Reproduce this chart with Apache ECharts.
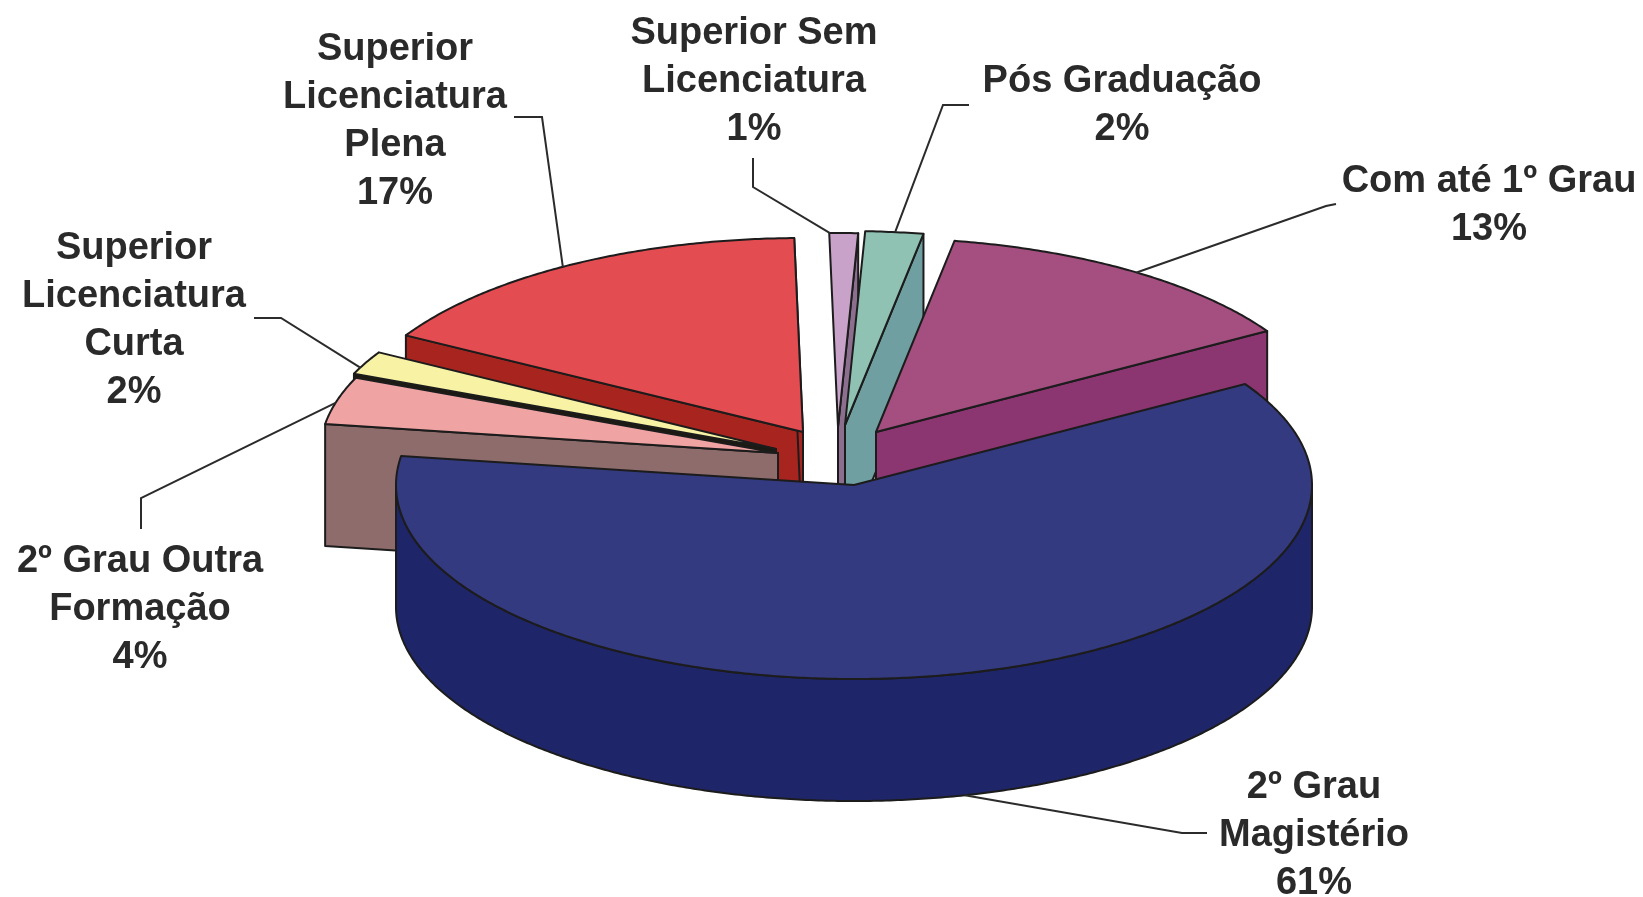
<!DOCTYPE html>
<html>
<head>
    <meta charset="utf-8" />
    <title></title>
    <style>
        html, body { margin: 0; height: 100%; background: #fff; }
        #container { width: 1643px; height: 897px; }
    </style>
    <script src="https://cdn.jsdelivr.net/npm/echarts@6/dist/echarts.min.js"></script>
</head>
<body>
    <div id="container"></div>
    <script>
        // clockwise from the right-hand edge of the big slice
        var categories = [
            '2º Grau\nMagistério',
            '2º Grau Outra\nFormação',
            'Superior\nLicenciatura\nCurta',
            'Superior\nLicenciatura\nPlena',
            'Superior Sem\nLicenciatura',
            'Pós Graduação',
            'Com até 1º Grau'
        ];
        var percents = [61, 4, 2, 17, 1, 2, 13];

        // back slices first, the big slice last
        var drawOrder = [4, 5, 3, 6, 2, 1, 0];

        // pie look: fake 3D ellipse
        var radiusX = 458, radiusY = 194, depth = 122, startAngle = 31;
        var tips = [[854, 485], [778, 453], [776, 449], [803, 432], [838, 427], [845, 425], [876, 432]];
        var topColors = ['#343a80', '#f0a3a3', '#f8f2a4', '#e34c50', '#c9a2c9', '#8fc2b2', '#a44f80'];
        var sideColors = ['#1f2569', '#8f6c6c', '#1d1a10', '#a8241f', '#8c6f8e', '#6f9fa0', '#8b3571'];

        // label block centre, elbow points of the leader, rim angle the leader ends on
        var labelPos = [[1314, 836], [140, 610], [134, 321], [395, 122], [754, 82], [1122, 106], [1489, 206]];
        var elbows = [
            [[1207, 833], [1182, 833]],
            [[141, 529], [141, 498]],
            [[254, 318], [281, 318]],
            [[514, 117], [542, 117]],
            [[753, 158], [753, 187]],
            [[969, 105], [943, 105]],
            [[1336, 204], [1326, 206]]
        ];
        var leaderAngles = [-76, 165, 155, 120, 88.5, 81.3, 54];
        var lineColor = '#1c1c1c';

        // slices to the back look turned a little, same as the old perspective
        function warp(deg) {
            var s = Math.sin(deg * Math.PI / 180);
            return s > 0 ? deg + 2.5 * s * s * s : deg;
        }
        function rimPoint(tip, deg, down) {
            var r = warp(deg) * Math.PI / 180;
            return [tip[0] + radiusX * Math.cos(r), tip[1] - radiusY * Math.sin(r) + (down || 0)];
        }
        function arc(tip, from, to, down) {
            var pts = [], n = Math.max(2, Math.ceil(Math.abs(to - from) * 2));
            for (var i = 0; i <= n; i++) {
                pts.push(rimPoint(tip, from + (to - from) * i / n, down));
            }
            return pts;
        }
        function poly(points, fill) {
            return {
                type: 'polygon',
                shape: { points: points },
                style: { fill: fill, stroke: lineColor, lineWidth: 2, lineJoin: 'round' }
            };
        }
        function cutFace(tip, deg, fill) {
            var rim = rimPoint(tip, deg);
            return poly([tip, rim, [rim[0], rim[1] + depth], [tip[0], tip[1] + depth]], fill);
        }

        // slice angles from the values, going clockwise
        var total = percents.reduce(function (a, b) { return a + b; }, 0);
        var hiAngles = [], run = startAngle;
        percents.forEach(function (p) {
            hiAngles.push(run);
            run -= p / total * 360;
        });

        function renderSlice(params) {
            var i = drawOrder[params.dataIndex];
            var tip = tips[i], hi = hiAngles[i], lo = hi - percents[i] / total * 360;
            var kids = [];

            // outer wall, front half only
            var wallFrom = Math.max(lo, -180), wallTo = Math.min(hi, 0);
            if (wallTo > wallFrom) {
                kids.push(poly(arc(tip, wallFrom, wallTo, 0).concat(arc(tip, wallTo, wallFrom, depth)), sideColors[i]));
            }
            if (Math.cos(hi * Math.PI / 180) < 0) kids.push(cutFace(tip, hi, sideColors[i]));
            if (Math.cos(lo * Math.PI / 180) > 0) kids.push(cutFace(tip, lo, sideColors[i]));
            kids.push(poly([tip].concat(arc(tip, lo, hi, 0)), topColors[i]));

            // leader line
            var leaderEnd = rimPoint(tip, leaderAngles[i], leaderAngles[i] < 0 ? depth : 0);
            kids.push({
                type: 'polyline',
                shape: { points: elbows[i].concat([leaderEnd]) },
                style: { fill: null, stroke: '#2b2b2b', lineWidth: 2 }
            });
            kids.push({
                type: 'text',
                x: labelPos[i][0],
                y: labelPos[i][1],
                style: {
                    text: categories[i] + '\n' + percents[i] + '%',
                    align: 'center',
                    verticalAlign: 'middle',
                    font: 'bold 38px "Liberation Sans", Arial, sans-serif',
                    lineHeight: 48,
                    fill: '#2a2a2a'
                }
            });
            return { type: 'group', children: kids };
        }

        var myChart = echarts.init(document.getElementById('container'));
        myChart.setOption({
            animation: false,
            backgroundColor: '#fff',
            series: [{
                type: 'custom',
                coordinateSystem: 'none',
                renderItem: renderSlice,
                silent: true,
                data: drawOrder.map(function (i) {
                    return { name: categories[i], value: percents[i] };
                })
            }]
        });
    </script>
</body>
</html>
